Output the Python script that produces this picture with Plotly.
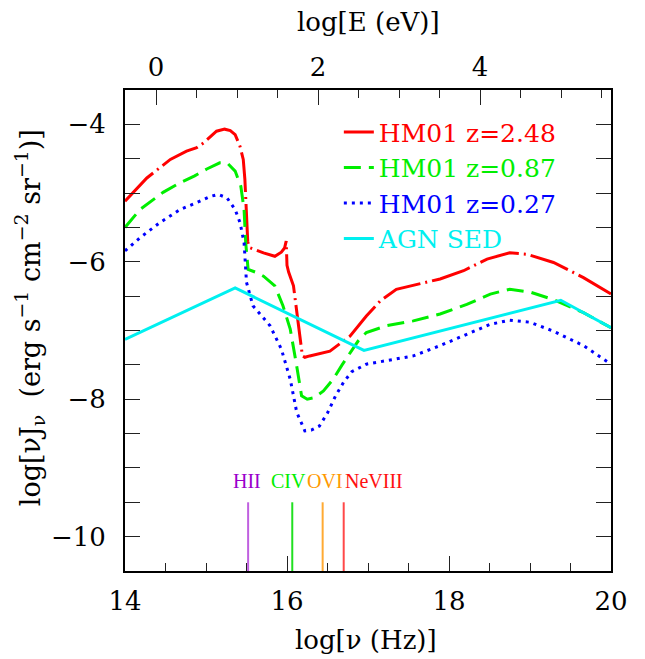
import plotly.graph_objects as go

# ---- data ----
red_x = [14.0, 14.27, 14.56, 14.76, 14.885, 14.97, 15.13, 15.23, 15.30, 15.36, 15.42, 15.46, 15.48,
         15.495, 15.515, 15.53, 15.71, 15.85, 15.93, 15.97, 15.99, 16.0, 16.02, 16.08, 16.14, 16.19,
         16.22, 16.28, 16.53, 16.78, 16.98, 17.15, 17.35, 17.6, 17.89, 18.18, 18.47, 18.75, 18.96,
         19.29, 19.66, 20.0]
red_y = [-5.12, -4.78, -4.51, -4.39, -4.34, -4.27, -4.10, -4.07, -4.09, -4.15, -4.32, -4.51, -4.80,
         -5.24, -5.70, -5.79, -5.87, -5.92, -5.86, -5.80, -5.70, -6.05, -6.15, -6.35, -6.93, -7.37,
         -7.39, -7.37, -7.30, -7.08, -6.79, -6.57, -6.40, -6.33, -6.25, -6.13, -5.96, -5.87, -5.89,
         -6.01, -6.23, -6.47]

green_x = [14.0, 14.185, 14.47, 14.68, 14.86, 15.01, 15.17, 15.26, 15.36, 15.43, 15.47, 15.49, 15.52,
           15.63, 15.71, 15.85, 15.95, 16.04, 16.12, 16.18, 16.25, 16.33, 16.45, 16.57, 16.68, 16.78,
           16.88, 16.98, 17.23, 17.56, 17.89, 18.22, 18.51, 18.75, 19.0, 19.29, 19.66, 20.0]
green_y = [-5.50, -5.24, -4.99, -4.85, -4.75, -4.65, -4.56, -4.56, -4.68, -4.90, -5.24, -5.72, -6.11,
           -6.16, -6.21, -6.35, -6.64, -6.98, -7.52, -7.95, -8.00, -7.98, -7.88, -7.71, -7.50, -7.32,
           -7.15, -7.03, -6.93, -6.86, -6.76, -6.62, -6.47, -6.40, -6.44, -6.55, -6.74, -6.96]

blue_x = [14.0, 14.185, 14.43, 14.68, 14.885, 15.05, 15.15, 15.26, 15.36, 15.42, 15.47, 15.49, 15.50,
          15.58, 15.79, 15.93, 16.04, 16.12, 16.22, 16.30, 16.40, 16.50, 16.60, 16.70, 16.80, 16.98,
          17.23, 17.56, 17.89, 18.22, 18.51, 18.75, 19.0, 19.29, 19.66, 20.0]
blue_y = [-5.84, -5.65, -5.43, -5.24, -5.14, -5.05, -5.02, -5.07, -5.24, -5.43, -5.72, -6.11, -6.30,
          -6.64, -6.93, -7.27, -7.71, -8.19, -8.46, -8.45, -8.39, -8.20, -7.95, -7.75, -7.60, -7.49,
          -7.44, -7.37, -7.22, -7.05, -6.91, -6.85, -6.88, -7.01, -7.22, -7.49]

agn_x = [14.0, 15.36, 16.95, 19.38, 20.0]
agn_y = [-7.13, -6.38, -7.29, -6.56, -6.96]

ion_names = ["HII", "CIV", "OVI", "NeVIII"]
ion_lognu = [15.52, 16.065, 16.44, 16.70]
ion_colors = ["#9a00cc", "#00ee00", "#ff9900", "#ff1010"]
ion_line_colors = ["#c060e0", "#20e020", "#ffaa33", "#ff4848"]
ion_label_shift = [-1, -4, 2, -1]
ion_line_y = [-10.5, -9.5]
ion_label_y = -9.19

series_names = ["HM01 z=2.48", "HM01 z=0.87", "HM01 z=0.27", "AGN SED"]
series_colors = ["#ff0000", "#00ee00", "#0000ff", "#00f0f0"]
series_dash = ["40px,5px,2px,5px", "17px,8px", "3px,5px", "solid"]

x_range = [14, 20]
y_range = [-10.5, -3.5]
LOG_H_EV = -14.3835  # log10(h in eV s)

fig = go.Figure()

for xs, ys, name, col, dash in zip([red_x, green_x, blue_x, agn_x],
                                   [red_y, green_y, blue_y, agn_y],
                                   series_names, series_colors, series_dash):
    fig.add_trace(go.Scatter(
        x=xs, y=ys, mode="lines",
        name=f"<span style='color:{col}'>{name}</span>",
        line=dict(color=col, width=3, dash=dash),
    ))

for nm, lx, c, lc, sh in zip(ion_names, ion_lognu, ion_colors, ion_line_colors, ion_label_shift):
    fig.add_trace(go.Scatter(x=[lx, lx], y=ion_line_y, mode="lines",
                             line=dict(color=lc, width=2), showlegend=False,
                             hoverinfo="skip"))
    fig.add_annotation(x=lx, y=ion_label_y, text=nm, showarrow=False,
                       xanchor="left" if nm == "NeVIII" else "center",
                       xshift=sh,
                       font=dict(family="Liberation Serif", size=20, color=c))

# dummy trace to bind the top axis
fig.add_trace(go.Scatter(x=[x_range[0] + LOG_H_EV], y=[None], xaxis="x2",
                         showlegend=False, hoverinfo="skip"))

tickfont = dict(family="DejaVu Serif", size=26, color="black")
common = dict(showgrid=False, zeroline=False, showline=True, linecolor="black",
              linewidth=2, ticks="inside", ticklen=15, tickwidth=1.3, tickcolor="#222",
              tickfont=tickfont)

fig.update_layout(
    width=645, height=659,
    margin=dict(l=125, r=34, t=90, b=88),
    paper_bgcolor="white", plot_bgcolor="white",
    xaxis=dict(range=x_range, tickvals=[14, 16, 18, 20], ticklabelstandoff=6,
               minor=dict(dtick=0.5, ticks="inside", ticklen=8, tickwidth=1.3, tickcolor="#222"),
               **common),
    xaxis2=dict(range=[x_range[0] + LOG_H_EV, x_range[1] + LOG_H_EV], overlaying="x",
                side="top", anchor="y", tickvals=[0, 2, 4], ticklabelstandoff=2,
                minor=dict(dtick=0.5, tick0=0, ticks="inside", ticklen=8, tickwidth=1.3,
                           tickcolor="#222"),
                **common),
    yaxis=dict(range=y_range, tickvals=[-4, -6, -8, -10], mirror="allticks",
               ticklabelstandoff=12,
               minor=dict(dtick=0.5, ticks="inside", ticklen=8, tickwidth=1.3, tickcolor="#222"),
               **common),
    legend=dict(x=0.44, y=0.96, xanchor="left", yanchor="top",
                bgcolor="rgba(0,0,0,0)", borderwidth=0,
                font=dict(family="DejaVu Serif", size=25, color="black"),
                itemwidth=30, tracegroupgap=0),
    showlegend=True,
)

titlefont = dict(family="DejaVu Serif", size=26, color="black")
fig.add_annotation(xref="paper", yref="paper", x=0.496, y=-0.1435, text="log[ν (Hz)]",
                   showarrow=False, font=titlefont, xanchor="center", yanchor="middle")
fig.add_annotation(xref="paper", yref="paper", x=0.50, y=1.141, text="log[E (eV)]",
                   showarrow=False, font=titlefont, xanchor="center", yanchor="middle")
fig.add_annotation(xref="paper", yref="paper", x=-0.195, y=0.526,
                   text="log[νJ<sub>ν</sub>  (erg s<sup>−1</sup> cm<sup>−2</sup> sr<sup>−1</sup>)]",
                   showarrow=False, font=dict(family="DejaVu Serif", size=27, color="black"),
                   textangle=-90, xanchor="center", yanchor="middle")

fig.write_html("out.html")
